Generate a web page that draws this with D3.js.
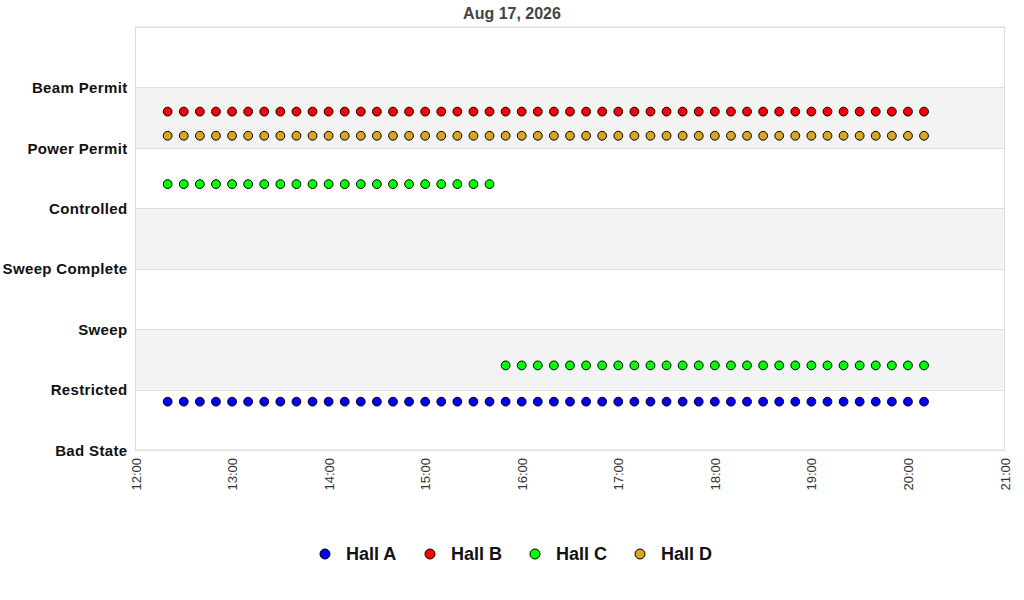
<!DOCTYPE html>
<html>
<head>
<meta charset="utf-8">
<script src="https://cdn.jsdelivr.net/npm/d3@7"></script>
<style>
  body { margin: 0; background: #fff; font-family: 'Liberation Sans', Arial, sans-serif; }
</style>
</head>
<body>
<div id="chart"></div>
<script>
// State categories, bottom to top
const states = ['Bad State', 'Restricted', 'Sweep', 'Sweep Complete', 'Controlled', 'Power Permit', 'Beam Permit']

// Sample times (every 10 minutes)
const times = [
  '12:20', '12:30', '12:40', '12:50', '13:00', '13:10', '13:20', '13:30', '13:40', '13:50',
  '14:00', '14:10', '14:20', '14:30', '14:40', '14:50', '15:00', '15:10', '15:20', '15:30',
  '15:40', '15:50', '16:00', '16:10', '16:20', '16:30', '16:40', '16:50', '17:00', '17:10',
  '17:20', '17:30', '17:40', '17:50', '18:00', '18:10', '18:20', '18:30', '18:40', '18:50',
  '19:00', '19:10', '19:20', '19:30', '19:40', '19:50', '20:00', '20:10'
]

// Plotted values (state index + per-hall offset)
const hallA = [
  0.8, 0.8, 0.8, 0.8, 0.8, 0.8, 0.8, 0.8, 0.8, 0.8, 0.8, 0.8, 0.8, 0.8, 0.8, 0.8,
  0.8, 0.8, 0.8, 0.8, 0.8, 0.8, 0.8, 0.8, 0.8, 0.8, 0.8, 0.8, 0.8, 0.8, 0.8, 0.8,
  0.8, 0.8, 0.8, 0.8, 0.8, 0.8, 0.8, 0.8, 0.8, 0.8, 0.8, 0.8, 0.8, 0.8, 0.8, 0.8
]
const hallB = [
  5.6, 5.6, 5.6, 5.6, 5.6, 5.6, 5.6, 5.6, 5.6, 5.6, 5.6, 5.6, 5.6, 5.6, 5.6, 5.6,
  5.6, 5.6, 5.6, 5.6, 5.6, 5.6, 5.6, 5.6, 5.6, 5.6, 5.6, 5.6, 5.6, 5.6, 5.6, 5.6,
  5.6, 5.6, 5.6, 5.6, 5.6, 5.6, 5.6, 5.6, 5.6, 5.6, 5.6, 5.6, 5.6, 5.6, 5.6, 5.6
]
const hallC = [
  4.4, 4.4, 4.4, 4.4, 4.4, 4.4, 4.4, 4.4, 4.4, 4.4, 4.4, 4.4, 4.4, 4.4, 4.4, 4.4,
  4.4, 4.4, 4.4, 4.4, 4.4, 1.4, 1.4, 1.4, 1.4, 1.4, 1.4, 1.4, 1.4, 1.4, 1.4, 1.4,
  1.4, 1.4, 1.4, 1.4, 1.4, 1.4, 1.4, 1.4, 1.4, 1.4, 1.4, 1.4, 1.4, 1.4, 1.4, 1.4
]
const hallD = [
  5.2, 5.2, 5.2, 5.2, 5.2, 5.2, 5.2, 5.2, 5.2, 5.2, 5.2, 5.2, 5.2, 5.2, 5.2, 5.2,
  5.2, 5.2, 5.2, 5.2, 5.2, 5.2, 5.2, 5.2, 5.2, 5.2, 5.2, 5.2, 5.2, 5.2, 5.2, 5.2,
  5.2, 5.2, 5.2, 5.2, 5.2, 5.2, 5.2, 5.2, 5.2, 5.2, 5.2, 5.2, 5.2, 5.2, 5.2, 5.2
]

const seriesNames = ['Hall A', 'Hall B', 'Hall C', 'Hall D']
const seriesColors = ['#0000ff', '#ff0000', '#00ff00', '#daa520']
const seriesValues = [hallA, hallB, hallC, hallD]

const chartTitle = 'Aug 17, 2026'
const xStart = '12:00'
const xEnd = '21:00'

const width = 1024
const height = 600
const margin = { top: 27, right: 19.5, bottom: 150, left: 135.5 }
const font = "'Liberation Sans', Arial, sans-serif"

const parseTime = d3.timeParse('%Y-%m-%d %H:%M')
const day = '2026-08-17 '

const svg = d3.select('#chart')
  .append('svg')
  .attr('width', width)
  .attr('height', height)

const x = d3.scaleTime()
  .domain([parseTime(day + xStart), parseTime(day + xEnd)])
  .range([margin.left, width - margin.right])

const y = d3.scaleLinear()
  .domain([0, states.length])
  .range([height - margin.bottom, margin.top])

// Alternating bands
const bandIdx = d3.range(states.length + 1).slice(1)
svg.append('g')
  .selectAll('rect')
  .data(bandIdx.filter(i => i % 2 === 0))
  .join('rect')
  .attr('x', x.range()[0])
  .attr('width', x.range()[1] - x.range()[0])
  .attr('y', d => y(d))
  .attr('height', d => y(d - 1) - y(d))
  .attr('fill', '#f3f3f3')

// Horizontal grid lines
svg.append('g')
  .selectAll('line')
  .data(d3.range(states.length + 1))
  .join('line')
  .attr('x1', x.range()[0])
  .attr('x2', x.range()[1])
  .attr('y1', d => Math.round(y(d)) + 0.5)
  .attr('y2', d => Math.round(y(d)) + 0.5)
  .attr('stroke', '#dddddd')

// Plot frame
svg.append('rect')
  .attr('x', x.range()[0])
  .attr('y', y.range()[1])
  .attr('width', x.range()[1] - x.range()[0])
  .attr('height', y.range()[0] - y.range()[1])
  .attr('fill', 'none')
  .attr('stroke', '#dddddd')

// Y axis labels
const yAxis = d3.axisLeft(y)
  .tickValues(d3.range(states.length))
  .tickFormat(i => states[i])
  .tickSize(0)
  .tickPadding(8)

svg.append('g')
  .attr('transform', `translate(${x.range()[0]},0)`)
  .call(yAxis)
  .call(g => g.select('.domain').remove())
  .selectAll('text')
  .attr('font-family', font)
  .attr('font-size', 15)
  .attr('letter-spacing', 0.35)
  .attr('font-weight', 'bold')
  .attr('fill', '#111')
  .attr('dy', '0.35em')

// X axis, rotated hour labels
const xAxis = d3.axisBottom(x)
  .ticks(d3.timeHour.every(1))
  .tickFormat(d3.timeFormat('%H:%M'))
  .tickSize(0)

const xg = svg.append('g')
  .attr('transform', `translate(0,${y.range()[0]})`)
  .call(xAxis)
xg.select('.domain').remove()
xg.selectAll('text')
  .attr('font-family', font)
  .attr('font-size', 13)
  .attr('fill', '#333')
  .attr('text-anchor', 'end')
  .attr('transform', 'rotate(-90)')
  .attr('x', -8)
  .attr('y', 0)
  .attr('dy', '0.35em')

// Points
seriesValues.forEach((vals, si) => {
  svg.append('g')
    .selectAll('circle')
    .data(vals.map((v, i) => ({ t: parseTime(day + times[i]), v })))
    .join('circle')
    .attr('cx', d => x(d.t))
    .attr('cy', d => y(d.v))
    .attr('r', 4.4)
    .attr('fill', seriesColors[si])
    .attr('stroke', '#000')
    .attr('stroke-width', 1)
})

// Title
svg.append('text')
  .attr('x', 512)
  .attr('y', 19)
  .attr('text-anchor', 'middle')
  .attr('font-family', font)
  .attr('font-size', 16)
  .attr('font-weight', 'bold')
  .attr('fill', '#444')
  .text(chartTitle)

// Legend
const legendX = [325, 430, 535, 640]
const legend = svg.append('g')
  .selectAll('g')
  .data(seriesNames)
  .join('g')
  .attr('transform', (d, i) => `translate(${legendX[i]},554)`)

legend.append('circle')
  .attr('r', 5)
  .attr('fill', (d, i) => seriesColors[i])
  .attr('stroke', '#000')

legend.append('text')
  .attr('x', 21)
  .attr('dy', '0.35em')
  .attr('font-family', font)
  .attr('font-size', 18)
  .attr('font-weight', 'bold')
  .attr('fill', '#111')
  .text(d => d)
</script>
</body>
</html>
